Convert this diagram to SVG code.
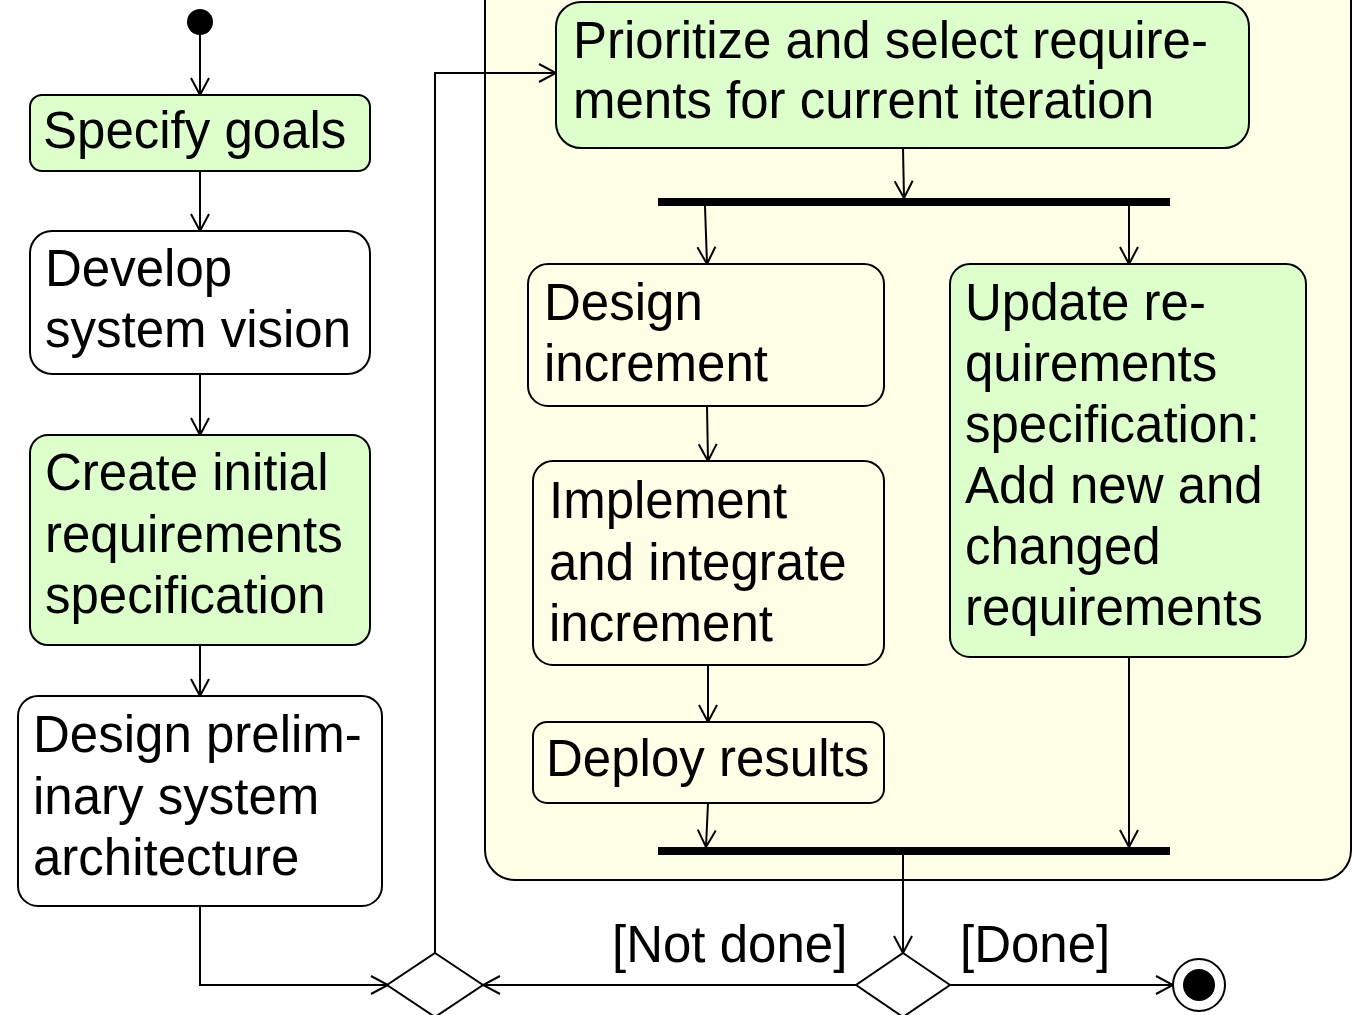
<svg xmlns="http://www.w3.org/2000/svg" width="1353" height="1015" viewBox="0 0 1353 1015">
<defs>
<style>
text{font-family:"Liberation Sans",Arial,sans-serif;font-size:51px;fill:#000}
.box{stroke:#000;stroke-width:2}
.g{fill:#ddffcc}
.w{fill:#fff}
.y{fill:#ffffe8}
.c{fill:none;stroke:#000;stroke-width:2}
.bar{fill:#000}
</style>
<marker id="ah" viewBox="0 0 22 22" refX="20" refY="11" markerWidth="22" markerHeight="22" markerUnits="userSpaceOnUse" orient="auto">
<path d="M3,2 L20,11 L3,20" fill="none" stroke="#000" stroke-width="2"/>
</marker>
</defs>
<rect width="1353" height="1015" fill="#fff"/>
<g id="container">
<rect class="box y" x="485" y="-30" width="866" height="910" rx="30"/>
</g>
<g id="connectors">
<path class="c" d="M200,34 L200,95" marker-end="url(#ah)"/>
<path class="c" d="M200,171 L200,231" marker-end="url(#ah)"/>
<path class="c" d="M200,374 L200,435" marker-end="url(#ah)"/>
<path class="c" d="M200,645 L200,696" marker-end="url(#ah)"/>
<path class="c" d="M200,906 L200,985 L388,985" marker-end="url(#ah)"/>
<path class="c" d="M435,953 L435,73 L556,73" marker-end="url(#ah)"/>
<path class="c" d="M903,148 L904,198" marker-end="url(#ah)"/>
<path class="c" d="M705,206 L707,264" marker-end="url(#ah)"/>
<path class="c" d="M1129,206 L1129,264" marker-end="url(#ah)"/>
<path class="c" d="M707,406 L708,461" marker-end="url(#ah)"/>
<path class="c" d="M708,665 L708,722" marker-end="url(#ah)"/>
<path class="c" d="M708,803 L706,847" marker-end="url(#ah)"/>
<path class="c" d="M1129,657 L1129,847" marker-end="url(#ah)"/>
<path class="c" d="M903,855 L903,953" marker-end="url(#ah)"/>
<path class="c" d="M856,985 L483,985" marker-end="url(#ah)"/>
<path class="c" d="M950,985 L1173,985" marker-end="url(#ah)"/>
<text x="612" y="962">[Not done]</text>
<text x="960" y="962">[Done]</text>
</g>
<g id="initial"><circle cx="200" cy="22" r="13" fill="#000"/></g>
<g id="specify-goals">
<rect class="box g" x="30" y="95" width="340" height="76" rx="12"/>
<text x="43" y="148">Specify goals</text>
</g>
<g id="develop-vision">
<rect class="box w" x="30" y="231" width="340" height="143" rx="22"/>
<text x="45" y="286">Develop</text>
<text x="45" y="347">system vision</text>
</g>
<g id="create-initial">
<rect class="box g" x="30" y="435" width="340" height="210" rx="18"/>
<text x="45" y="490">Create initial</text>
<text x="45" y="552">requirements</text>
<text x="45" y="613">specification</text>
</g>
<g id="design-prelim">
<rect class="box w" x="18" y="696" width="364" height="210" rx="20"/>
<text x="33" y="752">Design prelim-</text>
<text x="33" y="814">inary system</text>
<text x="33" y="875">architecture</text>
</g>
<g id="prioritize">
<rect class="box g" x="556" y="2" width="693" height="146" rx="25"/>
<text x="573" y="58">Prioritize and select require-</text>
<text x="573" y="118">ments for current iteration</text>
</g>
<g id="fork"><rect class="bar" x="658" y="198" width="512" height="8"/></g>
<g id="design-increment">
<rect class="box y" x="528" y="264" width="356" height="142" rx="20"/>
<text x="544" y="320">Design</text>
<text x="544" y="381">increment</text>
</g>
<g id="implement">
<rect class="box y" x="533" y="461" width="351" height="204" rx="20"/>
<text x="549" y="518">Implement</text>
<text x="549" y="580">and integrate</text>
<text x="549" y="641">increment</text>
</g>
<g id="deploy">
<rect class="box y" x="533" y="722" width="351" height="81" rx="14"/>
<text x="546" y="776">Deploy results</text>
</g>
<g id="update-req">
<rect class="box g" x="950" y="264" width="356" height="393" rx="20"/>
<text x="965" y="320">Update re-</text>
<text x="965" y="381">quirements</text>
<text x="965" y="442">specification:</text>
<text x="965" y="503">Add new and</text>
<text x="965" y="564">changed</text>
<text x="965" y="625">requirements</text>
</g>
<g id="join"><rect class="bar" x="658" y="847" width="512" height="8"/></g>
<g id="merge"><path class="box w" d="M435,953 L483,985 L435,1017 L387,985 Z"/></g>
<g id="decision"><path class="box w" d="M903,953 L950,985 L903,1017 L856,985 Z"/></g>
<g id="final">
<circle cx="1199" cy="985" r="26" fill="#fff" stroke="#000" stroke-width="2"/>
<circle cx="1199" cy="985" r="16" fill="#000"/>
</g>
</svg>
